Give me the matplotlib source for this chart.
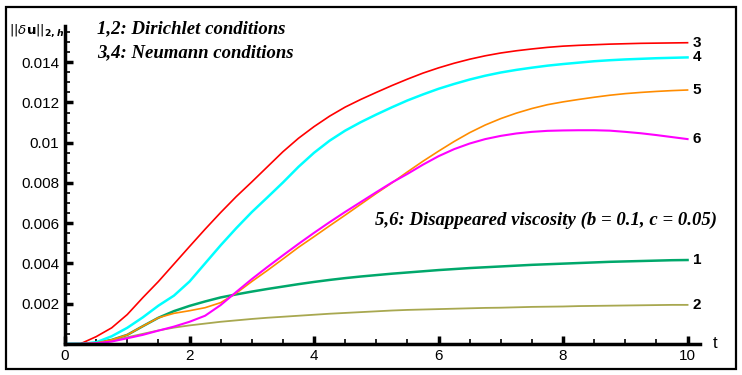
import numpy as np
import matplotlib
matplotlib.use("Agg")
import matplotlib.pyplot as plt
from matplotlib.patches import Rectangle
from matplotlib.ticker import MultipleLocator, FixedLocator, FixedFormatter

# values, every 0.25 in t
t = [0, 0.25, 0.5, 0.75, 1, 1.25, 1.5, 1.75, 2, 2.25, 2.5, 2.75, 3, 3.25, 3.5, 3.75,
     4, 4.25, 4.5, 4.75, 5, 5.25, 5.5, 5.75, 6, 6.25, 6.5, 6.75, 7, 7.25, 7.5, 7.75,
     8, 8.25, 8.5, 8.75, 9, 9.25, 9.5, 9.75, 10]

# 1,2: Dirichlet conditions
u1 = [0, 0, 0.00005, 0.0002, 0.00045, 0.00088, 0.0013, 0.00163, 0.00189, 0.00211,
      0.00231, 0.00246, 0.0026, 0.00273, 0.00285, 0.00297, 0.00308, 0.00318, 0.00327,
      0.00335, 0.00342, 0.00349, 0.00355, 0.00361, 0.00367, 0.00372, 0.00377, 0.00381,
      0.00385, 0.00389, 0.00393, 0.00396, 0.00399, 0.00402, 0.00405, 0.00408, 0.0041,
      0.00412, 0.00414, 0.00416, 0.00417]
u2 = [0, 0, 0.00004, 0.00015, 0.00033, 0.0005, 0.00067, 0.00081, 0.00092, 0.00101,
      0.0011, 0.00117, 0.00124, 0.0013, 0.00135, 0.0014, 0.00145, 0.0015, 0.00154,
      0.00158, 0.00162, 0.00166, 0.00169, 0.00171, 0.00173, 0.00175, 0.00177, 0.00179,
      0.0018, 0.00182, 0.00184, 0.00185, 0.00186, 0.00188, 0.00189, 0.0019, 0.00191,
      0.00192, 0.00193, 0.00194, 0.00194]
# 3,4: Neumann conditions
u3 = [0, 0.00001, 0.00036, 0.0008, 0.00146, 0.0023, 0.0031, 0.00397, 0.00484, 0.0057,
      0.00653, 0.00732, 0.00805, 0.0088, 0.00955, 0.01022, 0.0108, 0.01132, 0.01177,
      0.01215, 0.0125, 0.01284, 0.01316, 0.01346, 0.01372, 0.01395, 0.01415, 0.01432,
      0.01446, 0.01457, 0.01466, 0.01474, 0.0148, 0.01484, 0.01487, 0.0149, 0.01492,
      0.01494, 0.01495, 0.01496, 0.01497]
u4 = [0, 0, 0.00008, 0.00038, 0.0008, 0.00132, 0.0019, 0.0024, 0.0031, 0.004,
      0.0049, 0.00575, 0.00655, 0.00728, 0.00802, 0.0088, 0.0095, 0.0101, 0.0106,
      0.01102, 0.0114, 0.01176, 0.0121, 0.0124, 0.01268, 0.01292, 0.01314, 0.01333,
      0.01349, 0.01362, 0.01373, 0.01383, 0.01391, 0.01398, 0.01405, 0.0141, 0.01414,
      0.01417, 0.0142, 0.01422, 0.01424]
# 5,6: disappeared viscosity
u5 = [0, 0, 0.00005, 0.0002, 0.00045, 0.00088, 0.0013, 0.00152, 0.00165, 0.0018,
      0.00205, 0.00252, 0.0031, 0.00365, 0.00422, 0.0048, 0.00533, 0.00587, 0.0064,
      0.00694, 0.00748, 0.008, 0.00855, 0.00908, 0.00958, 0.01006, 0.0105, 0.01088,
      0.0112, 0.01147, 0.0117, 0.01189, 0.01203, 0.01215, 0.01226, 0.01236, 0.01244,
      0.0125, 0.01255, 0.01259, 0.01262]
u6 = [0, 0, 0.00003, 0.00012, 0.00028, 0.00045, 0.00066, 0.00086, 0.0011, 0.0014,
      0.00193, 0.00258, 0.00322, 0.00382, 0.0044, 0.00497, 0.00552, 0.00605, 0.00656,
      0.00705, 0.00754, 0.00802, 0.00845, 0.00891, 0.00933, 0.00968, 0.00996, 0.01018,
      0.01034, 0.01046, 0.01054, 0.01059, 0.01061, 0.01062, 0.01062, 0.0106, 0.01054,
      0.01047, 0.01038, 0.01028, 0.01018]

curve_names = ['1', '2', '3', '4', '5', '6']
curve_colors = ['#00a86b', '#a8a850', '#ff0000', '#00ffff', '#ff8c00', '#ff00ff']
curve_widths = [1.8, 1.3, 1.2, 1.8, 1.2, 1.5]

y_ticks = [0.002, 0.004, 0.006, 0.008, 0.01, 0.012, 0.014]
y_labels = ['0.002', '0.004', '0.006', '0.008', '0.01', '0.012', '0.014']
x_ticks = [0, 2, 4, 6, 8, 10]

fig = plt.figure(figsize=(7.42, 3.75), dpi=100)
ax = fig.add_axes([0.0876, 0.0829, 0.8558, 0.8477])

for y, name, c, lw in zip([u1, u2, u3, u4, u5, u6], curve_names, curve_colors, curve_widths):
    ax.plot(t, y, color=c, lw=lw, solid_joinstyle='round')
    ax.text(t[-1] + 0.08, y[-1], name, fontsize=11, fontweight='bold',
            family='Liberation Sans', va='center', ha='left')

ax.set_xlim(0, 10.2)
ax.set_ylim(0, 0.0158)
for s in ['top', 'right']:
    ax.spines[s].set_visible(False)
for s in ['left', 'bottom']:
    ax.spines[s].set_linewidth(2.5)

ax.xaxis.set_major_locator(FixedLocator(x_ticks))
ax.xaxis.set_minor_locator(MultipleLocator(0.5))
ax.yaxis.set_major_locator(FixedLocator(y_ticks))
ax.yaxis.set_major_formatter(FixedFormatter(y_labels))
ax.yaxis.set_minor_locator(MultipleLocator(0.0005))
ax.tick_params(which='major', direction='in', length=6, width=2.5, labelsize=11, pad=4)
ax.tick_params(which='minor', direction='in', length=3.5, width=1.2)
for lab in ax.get_xticklabels() + ax.get_yticklabels():
    lab.set_family('Liberation Sans')

# axis titles
fig.text(715 / 742, 1 - 343 / 375, 't', fontsize=12, family='Liberation Sans',
         ha='center', va='center')
fig.text(9 / 742, 1 - 31 / 375, r'$||\delta\mathbf{u}||_{\mathbf{2,}\boldsymbol{h}}$',
         fontsize=9.5, ha='left', va='center')

ann = dict(fontsize=13.5, family='Liberation Serif', fontweight='bold', style='italic')
fig.text(97 / 742, 1 - 29 / 375, '1,2: Dirichlet conditions', va='center', **ann)
fig.text(97 / 742, 1 - 53 / 375, '3,4: Neumann conditions', va='center', **ann)
fig.text(375 / 742, 1 - 220 / 375, '5,6: Disappeared viscosity (b = 0.1, c = 0.05)',
         va='center', **ann)

# frame around the whole picture
fig.patches.append(Rectangle((6 / 742, 6 / 375), 730 / 742, 362 / 375,
                             transform=fig.transFigure, fill=False,
                             edgecolor='black', lw=1.6))

fig.savefig('out.png', dpi=100)
